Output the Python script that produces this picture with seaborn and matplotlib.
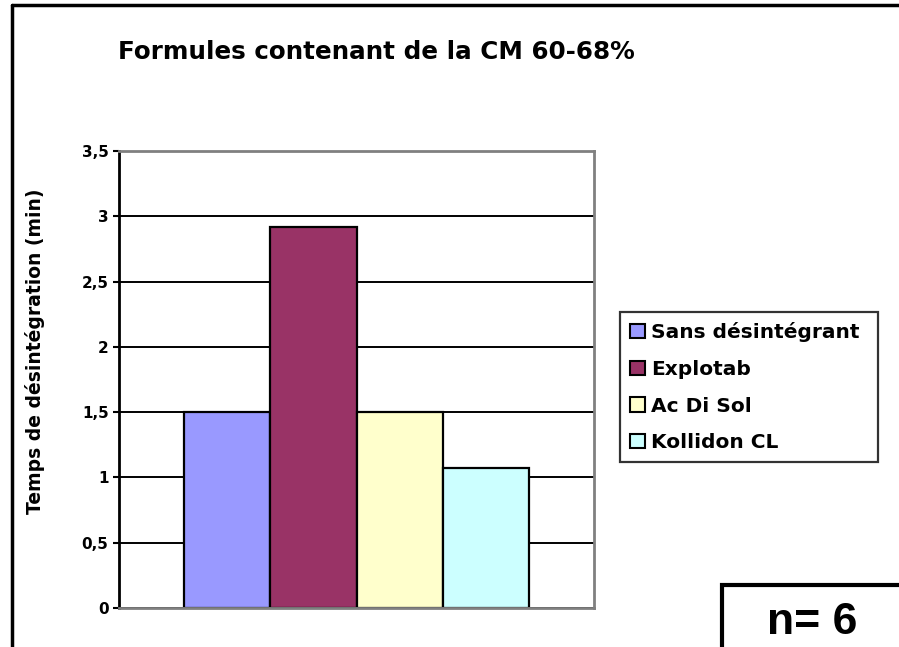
import pandas as pd
import matplotlib
matplotlib.use("Agg")
import matplotlib.pyplot as plt
from matplotlib.lines import Line2D
from matplotlib.patches import Rectangle
from matplotlib.ticker import FuncFormatter, MultipleLocator
import seaborn as sns

# Values
desintegrants = ["Sans désintégrant", "Explotab", "Ac Di Sol", "Kollidon CL"]
temps_min = [1.5, 2.92, 1.5, 1.07]
couleurs = ["#9999FF", "#993366", "#FFFFCC", "#CCFFFF"]
titre = "Formules contenant de la CM 60-68%"
label_y = "Temps de désintégration (min)"
note_n = "n= 6"

W, H = 899, 647


def fx(px):
    return px / W


def fy(py):
    return 1 - py / H


df = pd.DataFrame({"groupe": [""] * len(desintegrants),
                   "desintegrant": desintegrants,
                   "temps": temps_min})

sns.set_theme(style="white")
plt.rcParams["font.family"] = ["DejaVu Sans"]
plt.rcParams["font.weight"] = "bold"
plt.rcParams["text.color"] = "black"
plt.rcParams["axes.labelcolor"] = "black"
plt.rcParams["ytick.color"] = "black"

fig = plt.figure(figsize=(W / 100, H / 100), dpi=100)
ax = fig.add_axes([fx(119), fy(608), fx(594) - fx(119), fy(151) - fy(608)])

sns.barplot(data=df, x="groupe", y="temps", hue="desintegrant",
            palette=couleurs, width=0.726, saturation=1,
            edgecolor="black", linewidth=1.6, ax=ax)

ax.set_xlim(-0.5, 0.5)
ax.set_ylim(0, 3.5)
ax.set_axisbelow(True)
ax.yaxis.set_major_locator(MultipleLocator(0.5))
ax.yaxis.set_major_formatter(FuncFormatter(lambda v, _: f"{v:g}".replace(".", ",")))
ax.grid(axis="y", color="black", linewidth=1.4)
ax.grid(axis="x", visible=False)
ax.set_xticks([])
ax.set_xlabel("")

ax.tick_params(axis="y", left=True, direction="out", length=4.5, width=1.5,
               color="black", labelcolor="black", pad=3, labelsize=11)
for t in ax.get_yticklabels():
    t.set_fontweight("bold")

for side in ["top", "right", "bottom"]:
    ax.spines[side].set_color("#808080")
    ax.spines[side].set_linewidth(2)
ax.spines["left"].set_color("black")
ax.spines["left"].set_linewidth(2)

ax.set_ylabel(label_y, fontsize=13.5, fontweight="bold", color="black")
ax.yaxis.set_label_coords((45 - 119) / 475, (608 - 351) / 457)

# legend
handles = [Rectangle((0, 0), 1, 1, facecolor=c, edgecolor="black", linewidth=1.5)
           for c in couleurs]
leg = ax.legend(handles, desintegrants, loc="upper left", mode="expand",
                bbox_to_anchor=(fx(620), fy(460), fx(878) - fx(620), fy(312) - fy(460)),
                bbox_transform=fig.transFigure,
                borderaxespad=0, frameon=True, fancybox=False,
                prop={"size": 14.5, "weight": "bold"},
                handlelength=0.75, handleheight=0.7, handletextpad=0.3,
                labelspacing=0.88, borderpad=0.5)
leg.get_frame().set_edgecolor("black")
leg.get_frame().set_linewidth(1.6)
for t in leg.get_texts():
    t.set_color("black")

# title
fig.text(fx(118), fy(52), titre, ha="left", va="center",
         fontsize=17.7, fontweight="bold", color="black")

# outer border of the chart (top and left edges visible)
fig.add_artist(Line2D([fx(12), 1.01], [fy(5), fy(5)], color="black", linewidth=2.5))
fig.add_artist(Line2D([fx(12), fx(12)], [fy(5), -0.01], color="black", linewidth=2.5))

# n= 6 box
fig.add_artist(Rectangle((fx(722), -0.05), 0.5, fy(585) + 0.05,
                         transform=fig.transFigure, facecolor="white",
                         edgecolor="black", linewidth=3, clip_on=False))
fig.text(fx(812), fy(622), note_n, ha="center", va="center", color="black",
         fontsize=32, fontweight="bold", family=["Liberation Sans", "DejaVu Sans"])

fig.savefig("out.png", dpi=100)
